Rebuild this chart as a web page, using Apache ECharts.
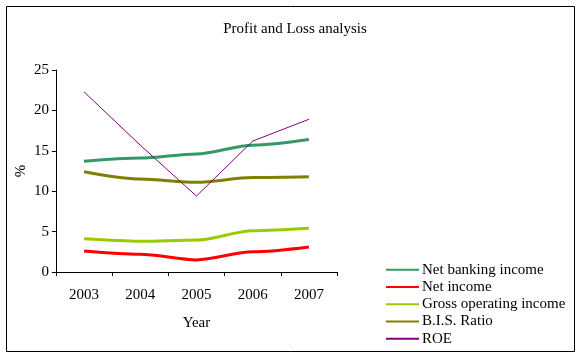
<!DOCTYPE html>
<html><head><meta charset="utf-8">
<script src="https://cdn.jsdelivr.net/npm/echarts@6/dist/echarts.min.js"></script>
<style>html,body{margin:0;padding:0;background:#fff}#c{width:581px;height:357px}</style>
</head><body><div id="c"></div>
<script>
const categories = ['2003','2004','2005','2006','2007'];
const netBanking = [13.7, 14.1, 14.6, 15.7, 16.4];
const netIncome = [2.6, 2.2, 1.5, 2.5, 3.1];
const grossOperating = [4.1, 3.8, 3.95, 5.1, 5.4];
const bisRatio = [12.4, 11.5, 11.1, 11.7, 11.8];
const roe = [22.3, 15.7, 9.4, 16.2, 18.9];
const yTicks = [0, 5, 10, 15, 20, 25];

const F = 'Liberation Serif, Times New Roman, serif';
const chart = echarts.init(document.getElementById('c'));
function ser(name, data, color, w, smooth) {
  return {name, type:'line', data, symbol:'none', smooth: smooth, smoothMonotone:'x',
    lineStyle:{color, width:w}, itemStyle:{color}};
}
chart.setOption({
  animation:false,
  title:{text:'Profit and Loss analysis', left:290, top:17, textAlign:'center',
    textStyle:{fontFamily:F, fontSize:15, fontWeight:'normal', color:'#000'}},
  graphic:[{type:'rect', shape:{x:6.5,y:6.5,width:568,height:345}, style:{fill:'none', stroke:'#000', lineWidth:1}}],
  grid:{left:44, right:244, top:70, bottom:85},
  legend:{orient:'vertical', left:385, top:261, itemWidth:33, itemHeight:10, itemGap:0,
    padding:0, height:100,
    itemStyle:{opacity:0},
    textStyle:{fontFamily:F, fontSize:15, lineHeight:17.3, color:'#000', padding:[0,0,0,-2]},
    data:['Net banking income','Net income','Gross operating income','B.I.S. Ratio','ROE']},
  xAxis:{type:'category', data:categories, boundaryGap:true,
    name:'Year', nameLocation:'middle', nameGap:44,
    nameTextStyle:{fontFamily:F, fontSize:15, color:'#000'},
    axisLine:{lineStyle:{color:'#000', width:1}},
    axisTick:{show:true, length:4, inside:false, lineStyle:{color:'#000'}},
    axisLabel:{fontFamily:F, fontSize:15, color:'#000', margin:16}},
  yAxis:{type:'value', min:yTicks[0], max:yTicks[yTicks.length-1], interval:5,
    name:'%', nameLocation:'middle', nameGap:27, nameRotate:90,
    nameTextStyle:{fontFamily:F, fontSize:15, color:'#000'},
    axisLine:{show:true, lineStyle:{color:'#000', width:1}},
    axisTick:{show:true, length:4, lineStyle:{color:'#000'}},
    splitLine:{show:false},
    axisLabel:{fontFamily:F, fontSize:15, color:'#000', margin:7}},
  series:[
    ser('Net banking income', netBanking, '#339966', 3, 0.3),
    ser('Net income', netIncome, '#FF0000', 3, 0.3),
    ser('Gross operating income', grossOperating, '#99CC00', 3, 0.3),
    ser('B.I.S. Ratio', bisRatio, '#808000', 3, 0.3),
    ser('ROE', roe, '#800080', 1, false)
  ]
});
</script></body></html>
